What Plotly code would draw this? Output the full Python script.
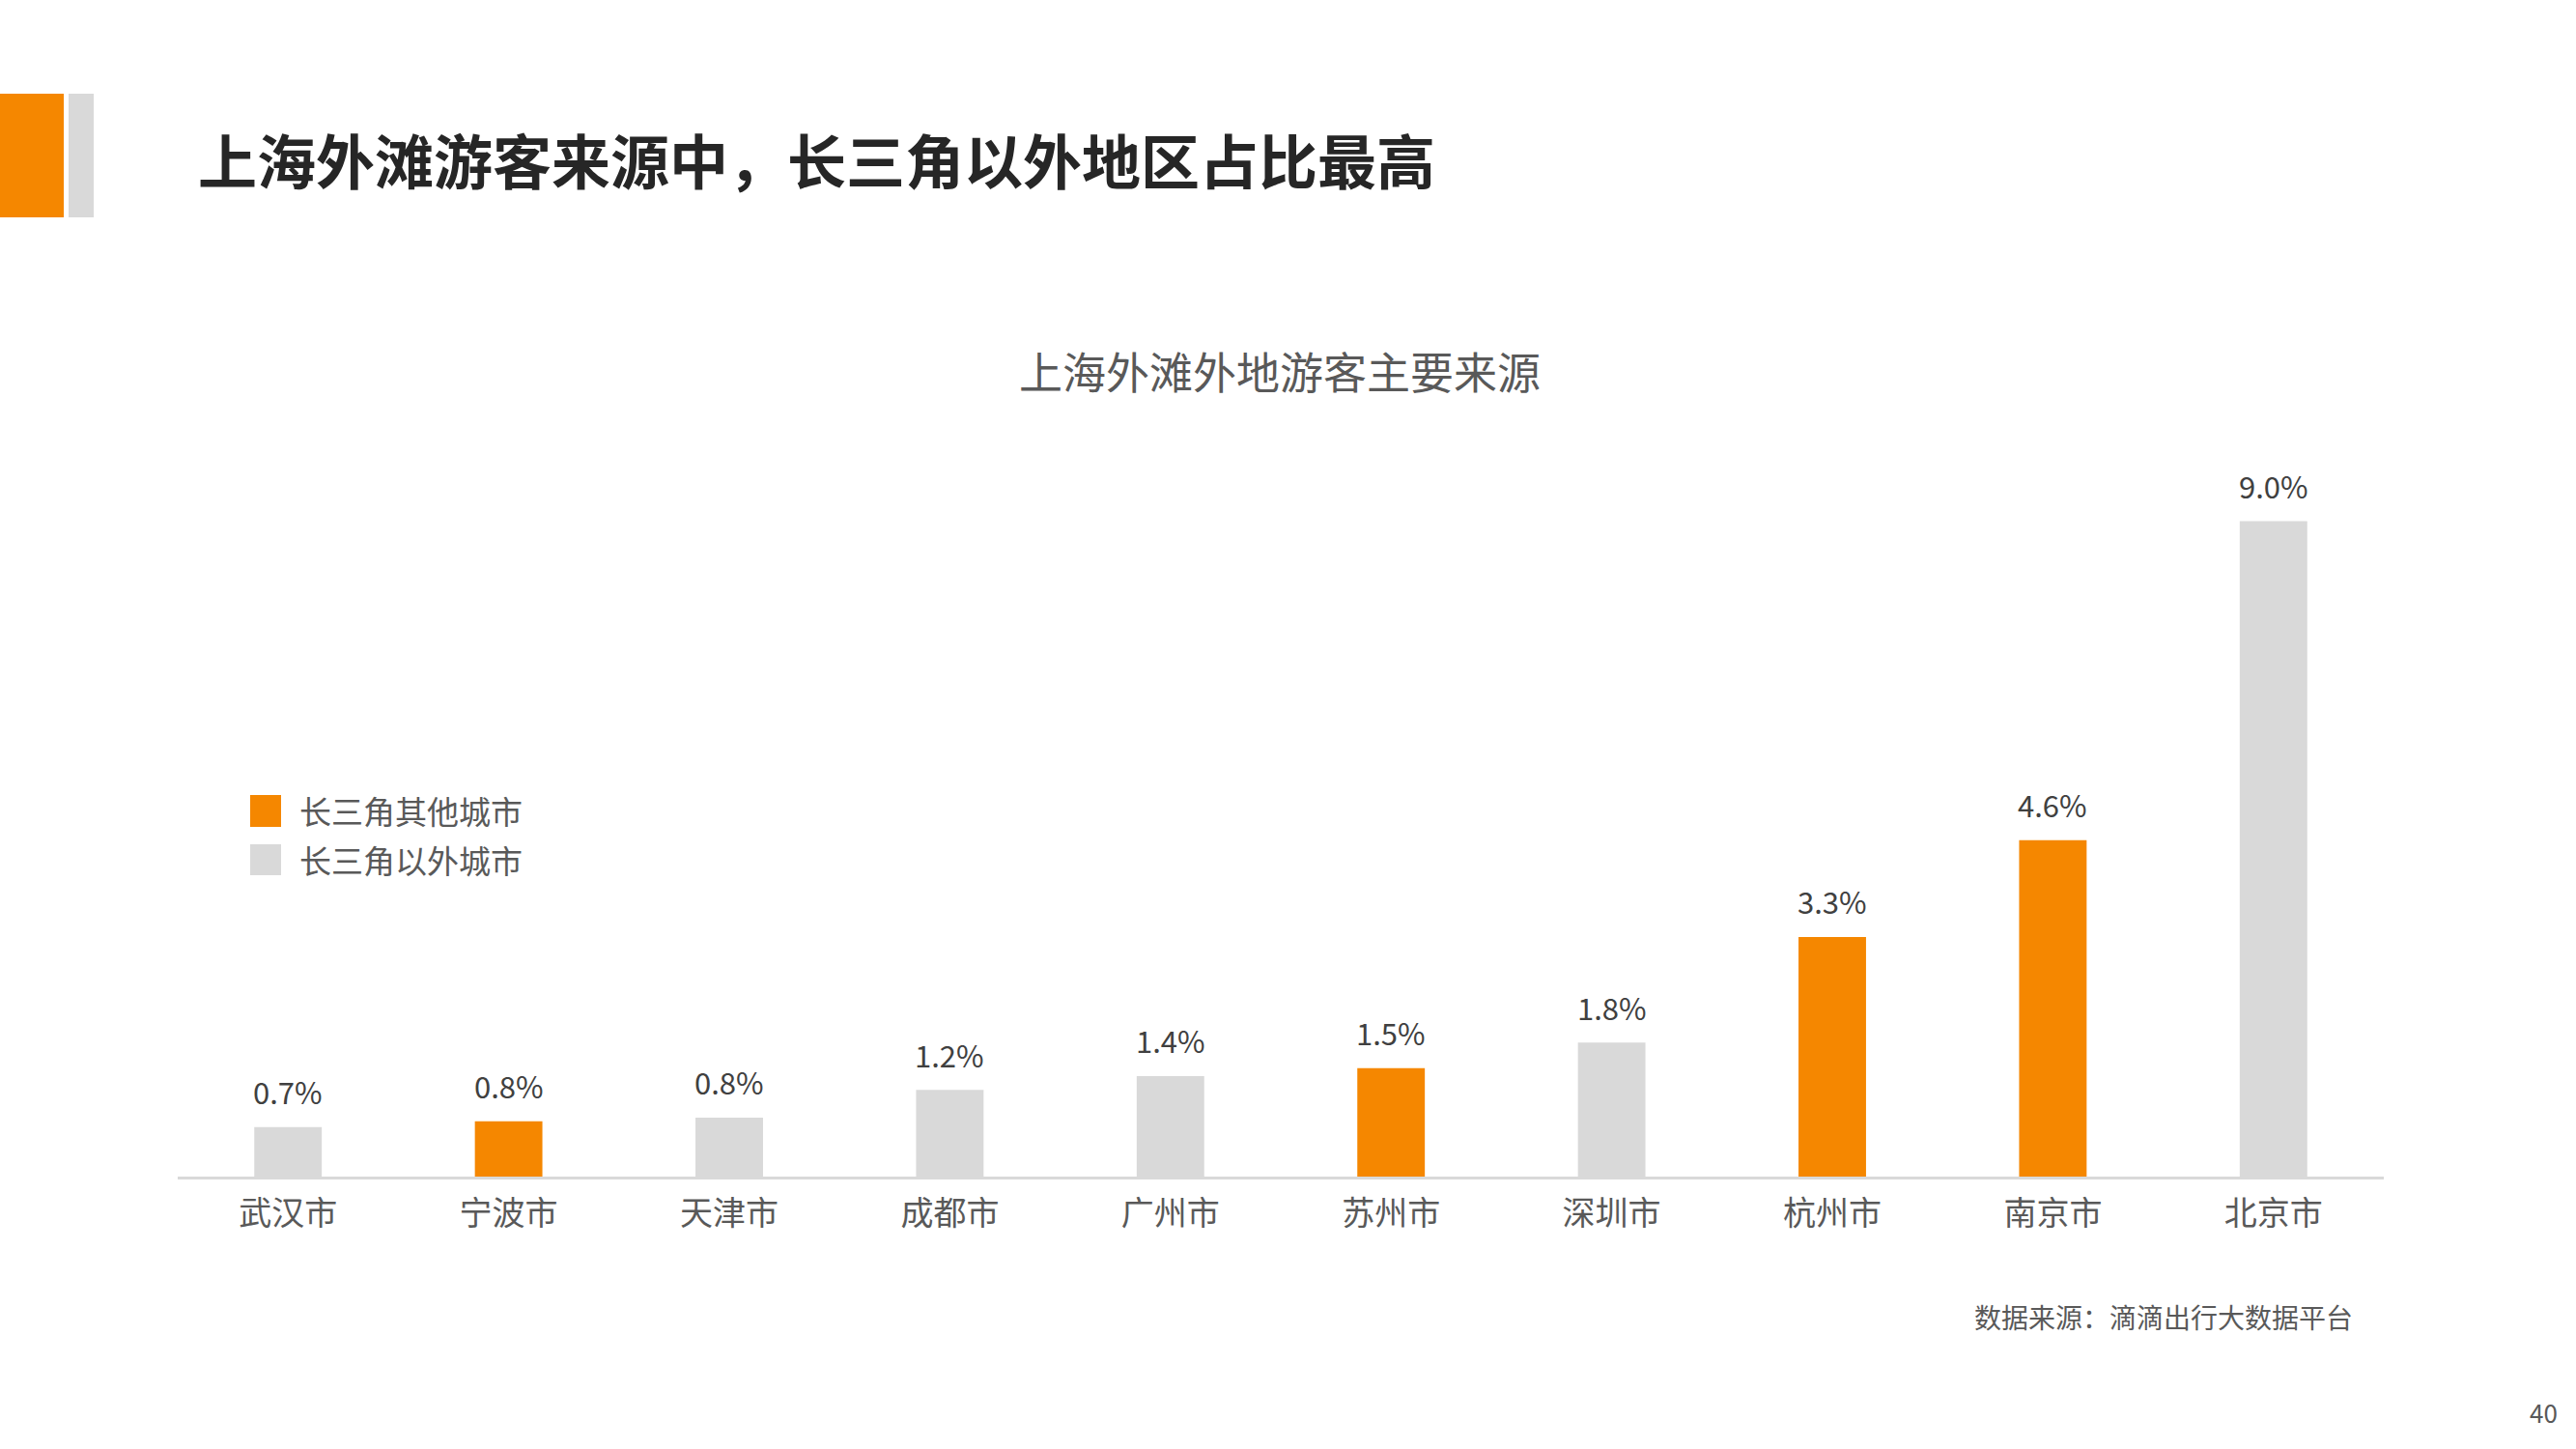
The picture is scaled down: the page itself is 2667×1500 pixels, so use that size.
import plotly.graph_objects as go

# ---- data ----
cities = ["武汉市", "宁波市", "天津市", "成都市", "广州市", "苏州市", "深圳市", "杭州市", "南京市", "北京市"]
shares = [0.68, 0.76, 0.81, 1.19, 1.38, 1.49, 1.84, 3.29, 4.62, 9.0]
in_yrd = [False, True, False, False, False, True, False, True, True, False]
legend_names = ["长三角其他城市", "长三角以外城市"]

title_text = "上海外滩游客来源中，长三角以外地区占比最高"
chart_title = "上海外滩外地游客主要来源"
source_text = "数据来源：滴滴出行大数据平台"
page_no = "40"

ORANGE = "#F58700"
GRAY = "#D9D9D9"
TEXT = "#595959"
FONT = "Noto Sans CJK SC"

W, H = 2667, 1500
def px(x):
    return x / W
def py(y):
    return 1 - y / H

colors = [ORANGE if f else GRAY for f in in_yrd]

fig = go.Figure()
fig.add_trace(go.Bar(
    x=cities, y=shares, marker=dict(color=colors, line=dict(width=0)),
    width=0.306, showlegend=False, hoverinfo="x+y",
))

annotations = []
for c, v in zip(cities, shares):
    annotations.append(dict(
        x=c, y=v, xref="x", yref="y", text=f"{v:.1f}%", showarrow=False,
        yanchor="middle", yshift=37, font=dict(family=FONT, size=31, color="#404040"),
    ))

# header title
annotations.append(dict(
    x=px(203), y=py(165), xref="paper", yref="paper", text=f"<b>{title_text}</b>",
    showarrow=False, xanchor="left", yanchor="middle",
    font=dict(family=FONT, size=61, color="#262626"),
))
# chart title
annotations.append(dict(
    x=px(1325), y=py(383), xref="paper", yref="paper", text=chart_title,
    showarrow=False, xanchor="center", yanchor="middle",
    font=dict(family=FONT, size=45, color=TEXT),
))
# legend texts
for name, yc in zip(legend_names, [839, 890]):
    annotations.append(dict(
        x=px(308), y=py(yc), xref="paper", yref="paper", text=name,
        showarrow=False, xanchor="left", yanchor="middle",
        font=dict(family=FONT, size=33, color=TEXT),
    ))
# source
annotations.append(dict(
    x=px(2438), y=py(1363), xref="paper", yref="paper", text=source_text,
    showarrow=False, xanchor="right", yanchor="middle",
    font=dict(family=FONT, size=28, color=TEXT),
))
annotations.append(dict(
    x=px(2650), y=py(1461), xref="paper", yref="paper", text=page_no,
    showarrow=False, xanchor="right", yanchor="middle",
    font=dict(family=FONT, size=26, color=TEXT),
))

shapes = [
    dict(type="rect", xref="paper", yref="paper", x0=px(0), x1=px(66), y0=py(225), y1=py(97),
         fillcolor=ORANGE, line=dict(width=0), layer="above"),
    dict(type="rect", xref="paper", yref="paper", x0=px(71), x1=px(97), y0=py(225), y1=py(97),
         fillcolor=GRAY, line=dict(width=0), layer="above"),
    dict(type="rect", xref="paper", yref="paper", x0=px(259), x1=px(291), y0=py(856), y1=py(823),
         fillcolor=ORANGE, line=dict(width=0)),
    dict(type="rect", xref="paper", yref="paper", x0=px(259), x1=px(291), y0=py(906), y1=py(874),
         fillcolor=GRAY, line=dict(width=0)),
]

fig.update_layout(
    width=W, height=H, autosize=False,
    margin=dict(l=0, r=0, t=0, b=0),
    paper_bgcolor="white", plot_bgcolor="white",
    font=dict(family=FONT, color=TEXT),
    annotations=annotations, shapes=shapes,
    xaxis=dict(domain=[px(184), px(2468)], showline=True, linecolor=GRAY, linewidth=3,
               showgrid=False, zeroline=False, ticks="", ticklabelstandoff=6,
               tickfont=dict(family=FONT, size=34, color=TEXT), fixedrange=True),
    yaxis=dict(domain=[py(1218), py(464)], range=[0, 10], visible=False, fixedrange=True),
    bargap=0.694,
)

fig.write_html("out.html")
